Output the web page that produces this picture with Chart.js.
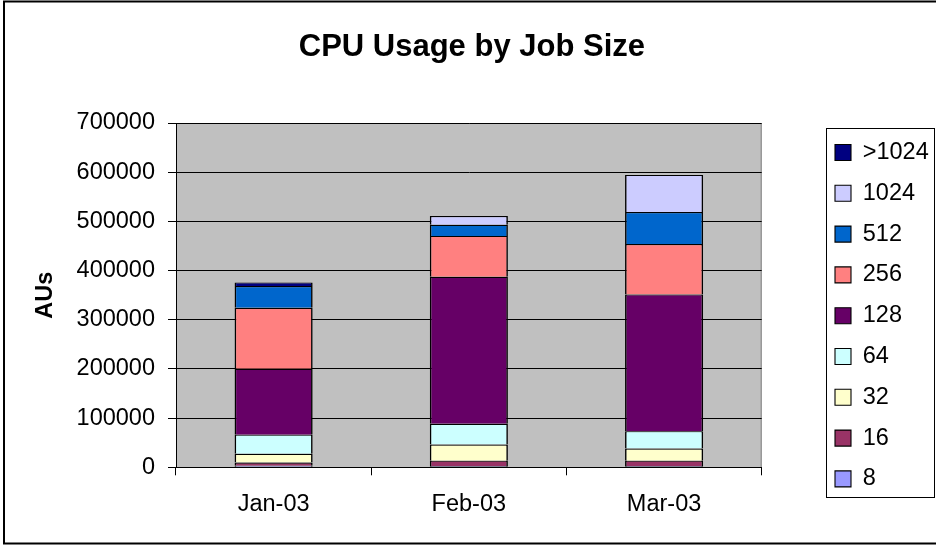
<!DOCTYPE html>
<html><head><meta charset="utf-8">
<script src="https://cdn.jsdelivr.net/npm/chart.js@4"></script>
<style>html,body{margin:0;padding:0;background:#fff;}#wrap{width:936px;height:547px;}</style>
</head><body><div id="wrap"><canvas id="c" width="936" height="547"></canvas></div>
<script>
// ---- data ----
const categories = ['Jan-03', 'Feb-03', 'Mar-03'];
const jobSizes = ['8', '16', '32', '64', '128', '256', '512', '1024', '>1024'];
const v8    = [3000, 2500, 2500];
const v16   = [6600, 11000, 11000];
const v32   = [17800, 33000, 24500];
const v64   = [39000, 42000, 35500];
const v128  = [134000, 299000, 278000];
const v256  = [124000, 83000, 102500];
const v512  = [44000, 22500, 65000];
const v1024 = [0, 18000, 75500];
const vOver = [7500, 0, 0];
const yMin = 0, yMax = 700000, yStep = 100000;
const chartTitle = 'CPU Usage by Job Size';
const yTitle = 'AUs';

// ---- styles ----
const seriesValues = [v8, v16, v32, v64, v128, v256, v512, v1024, vOver];
const seriesColors = ['#9999FF', '#993366', '#FFFFCC', '#CCFFFF', '#660066', '#FF8080', '#0066CC', '#CCCCFF', '#000080'];
const FONT = '"Liberation Sans", Arial, sans-serif';

const datasets = jobSizes.map((lab, i) => ({
  label: lab,
  data: seriesValues[i],
  backgroundColor: seriesColors[i],
  borderColor: '#000',
  borderWidth: {top: 1.2, right: 1.6, bottom: 0, left: 1.6},
  borderSkipped: false,
  yAxisID: 'y',
  barPercentage: 0.4,
  categoryPercentage: 1.0
}));

const decor = {
  id: 'decor',
  beforeDraw(chart) {
    const ctx = chart.ctx, a = chart.chartArea;
    ctx.save();
    ctx.fillStyle = '#fff';
    ctx.fillRect(0, 0, chart.width, chart.height);
    ctx.strokeStyle = '#000';
    ctx.lineWidth = 2;
    ctx.strokeRect(4, 1.5, 940, 542);
    ctx.fillStyle = '#C0C0C0';
    ctx.fillRect(a.left, a.top, a.right - a.left, a.bottom - a.top);
    ctx.strokeStyle = '#808080';
    ctx.lineWidth = 1;
    ctx.beginPath();
    ctx.moveTo(a.left, a.top + 0.5);
    ctx.lineTo(a.right - 0.5, a.top + 0.5);
    ctx.lineTo(a.right - 0.5, a.bottom);
    ctx.stroke();
    ctx.restore();
  },
  afterDraw(chart) {
    const lg = chart.legend;
    if (!lg || !lg.legendHitBoxes || !lg.legendHitBoxes.length) return;
    const hb = lg.legendHitBoxes;
    let l = Infinity, t = Infinity, b = -Infinity;
    hb.forEach(h => { l = Math.min(l, h.left); t = Math.min(t, h.top); b = Math.max(b, h.top + h.height); });
    const ctx = chart.ctx;
    ctx.save();
    ctx.strokeStyle = '#000';
    ctx.lineWidth = 1;
    ctx.strokeRect(Math.round(l - 9) + 0.5, Math.round(t - 13) + 0.5, Math.round(934 - (l - 9)), Math.round(b + 6 - (t - 13)));
    ctx.restore();
  }
};

new Chart(document.getElementById('c'), {
  type: 'bar',
  data: { labels: categories, datasets },
  plugins: [decor],
  options: {
    responsive: false,
    animation: false,
    layout: { padding: { left: 5, right: -2.75, top: 10, bottom: 13.3 } },
    plugins: {
      tooltip: { enabled: false },
      title: {
        display: true, text: chartTitle, color: '#000',
        font: { family: FONT, size: 31, weight: 'bold' },
        padding: { top: 18.7, bottom: 57.1 }
      },
      legend: {
        display: true, position: 'right', align: 'start', reverse: true,
        title: { display: true, text: ' ', font: { family: FONT, size: 10 }, padding: { top: 101.45, bottom: 0 } },
        labels: {
          color: '#000', boxWidth: 16, boxHeight: 16, padding: 17.3,
          font: { family: FONT, size: 23.5 }
        }
      }
    },
    scales: {
      x: {
        stacked: true,
        grid: { display: true, drawOnChartArea: false, drawTicks: true, tickLength: 8, tickColor: '#000', color: '#000' },
        border: { display: true, color: '#000', width: 1 },
        ticks: { color: '#000', padding: 15.1, font: { family: FONT, size: 23.5 } }
      },
      y: {
        stacked: true, position: 'left',
        min: yMin, max: yMax,
        grid: { color: '#000', lineWidth: 1, tickLength: 8, tickColor: '#000' },
        border: { display: true, color: '#000', width: 1 },
        ticks: { stepSize: yStep, color: '#000', padding: 13, font: { family: FONT, size: 23.5 }, callback: (v) => String(v) },
        title: { display: true, text: yTitle, color: '#000', font: { family: FONT, size: 23.5, weight: 'bold' }, padding: { top: 26.9, bottom: 3.5 } },
        afterFit(s) { s.width = 171; }
      },
      spacer: {
        type: 'linear', position: 'right', display: true,
        grid: { display: false }, border: { display: false }, ticks: { display: false },
        afterFit(s) { s.width = 56; }
      }
    }
  }
});
</script>
</body></html>
